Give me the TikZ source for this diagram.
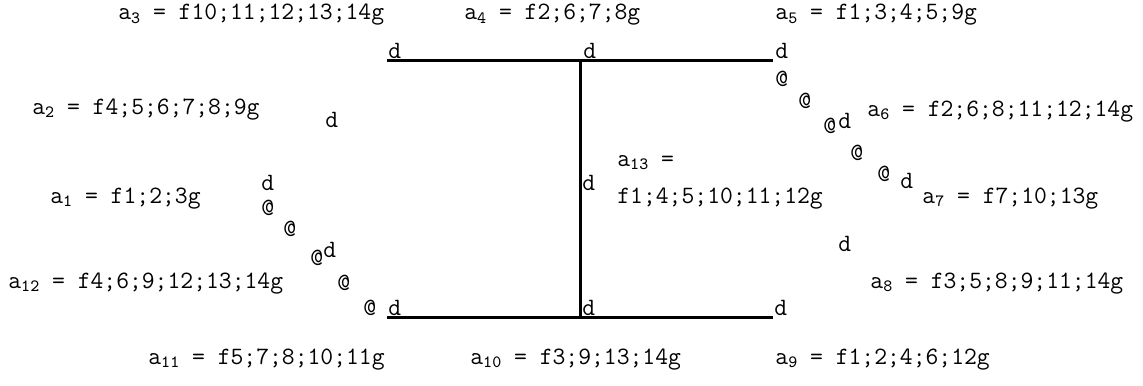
\documentclass[tikz,border=0pt]{standalone}
\newcommand{\idx}[1]{\raisebox{-0.35ex}{\fontsize{8.6}{9}\selectfont #1}}

\begin{document}
\begin{tikzpicture}[x=0.5pt, y=-0.5pt,
    lbl/.style={anchor=base west, inner sep=0pt, font=\ttfamily\fontsize{12.46}{14}\selectfont},
    bar/.style={line width=1.5pt}]
    \useasboundingbox (0,0) rectangle (1143,385);
    % ends of the three bars
    \coordinate (tl) at (387,61);
    \coordinate (tm) at (580,61);
    \coordinate (tr) at (773,61);
    \coordinate (bl) at (387,317);
    \coordinate (bm) at (580,317);
    \coordinate (br) at (773,317);
    \draw[bar] (tl) -- (tr);
    \draw[bar] (bl) -- (br);
    \draw[bar] (tm) -- (bm);
    % d marks
    \node[lbl] (dtl) at (388,59) {d};
    \node[lbl] (dtm) at (583,59) {d};
    \node[lbl] (dtr) at (775,59) {d};
    \node[lbl] (dbl) at (388,315) {d};
    \node[lbl] (dbm) at (582,315) {d};
    \node[lbl] (dbr) at (774,315) {d};
    \node[lbl] (dl1) at (325,127) {d};
    \node[lbl] (dl2) at (261,190) {d};
    \node[lbl] (dl3) at (323,257) {d};
    \node[lbl] (dmid) at (582,190) {d};
    \node[lbl] (dr1) at (838,128) {d};
    \node[lbl] (dr2) at (900,188) {d};
    \node[lbl] (dr3) at (838,251) {d};
    % @ marks on the two slants
    \foreach \n/\x/\y in {l1/261/215, l2/283/236, l3/310/265, l4/337/290, l5/363/315,
                          r1/775/86, r2/798/108, r3/823/133, r4/850/160, r5/877/181}
        \node[lbl] (at\n) at (\x,\y) {@};
    % sets
    \node[lbl] (a3) at (118,20) {a\idx{3} = f10;11;12;13;14g};
    \node[lbl] (a4) at (464,20) {a\idx{4} = f2;6;7;8g};
    \node[lbl] (a5) at (775,20) {a\idx{5} = f1;3;4;5;9g};
    \node[lbl] (a2) at (32,114) {a\idx{2} = f4;5;6;7;8;9g};
    \node[lbl] (a6) at (867,116) {a\idx{6} = f2;6;8;11;12;14g};
    \node[lbl] (a1) at (50,203) {a\idx{1} = f1;2;3g};
    \node[lbl] (a13) at (617,166) {a\idx{13} =};
    \node[lbl] (a13set) at (617,203) {f1;4;5;10;11;12g};
    \node[lbl] (a7) at (922,203) {a\idx{7} = f7;10;13g};
    \node[lbl] (a12) at (8,288) {a\idx{12} = f4;6;9;12;13;14g};
    \node[lbl] (a8) at (870,288) {a\idx{8} = f3;5;8;9;11;14g};
    \node[lbl] (a11) at (148,364) {a\idx{11} = f5;7;8;10;11g};
    \node[lbl] (a10) at (470,364) {a\idx{10} = f3;9;13;14g};
    \node[lbl] (a9) at (775,364) {a\idx{9} = f1;2;4;6;12g};
\end{tikzpicture}
\end{document}
